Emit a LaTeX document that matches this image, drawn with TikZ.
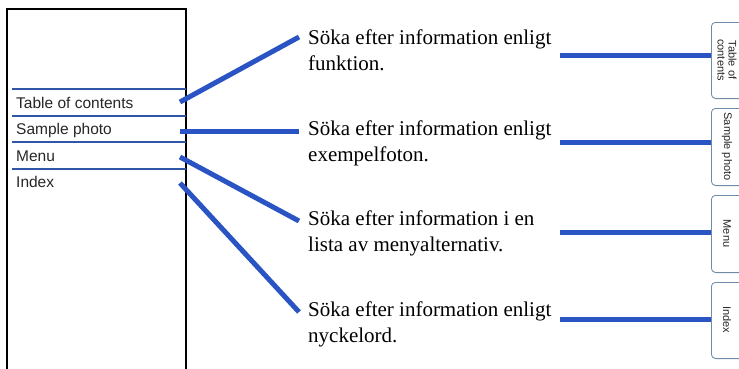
\documentclass[tikz,border=0pt]{standalone}
\usepackage{fontspec}
\setmainfont{Liberation Serif}
\setsansfont{Liberation Sans}
\usetikzlibrary{shadows}
\definecolor{linkblue}{RGB}{42,84,196}
\definecolor{sepblue}{RGB}{48,86,168}
\definecolor{tabedge}{RGB}{110,140,170}
\tikzset{
  menuitem/.style={anchor=base west, inner sep=0pt, font=\sffamily\fontsize{15.5}{18}\selectfont, text=black!85},
  desc/.style={anchor=base west, inner sep=0pt, align=left, font=\rmfamily\fontsize{21}{26}\selectfont},
  link/.style={draw=linkblue, line width=5pt},
  sepline/.style={draw=sepblue, line width=1.3pt},
  tabbox/.style={draw=tabedge, line width=0.8pt, fill=white, rounded corners=4pt,
     minimum width=36pt, minimum height=#1, anchor=north west, inner sep=0pt,
     drop shadow={shadow xshift=0.8pt, shadow yshift=-1pt, opacity=0.35}},
  tablabel/.style={rotate=-90, align=center, inner sep=0pt, font=\sffamily\fontsize{11}{11}\selectfont, text=black!85}
}
\begin{document}
\begin{tikzpicture}[x=1pt,y=-1pt]
\useasboundingbox (0,0) rectangle (739,368);
% left box
\draw[line width=2pt] (7,372) -- (7,9) -- (186,9) -- (186,372);
\foreach \yy in {89,116,142,169} \draw[sepline] (12,\yy) -- (186,\yy);
\node[menuitem] (m1) at (16,108) {Table of contents};
\node[menuitem] (m2) at (16,134) {Sample photo};
\node[menuitem] (m3) at (16,161) {Menu};
\node[menuitem] (m4) at (16,187) {Index};
% descriptions (base = baseline of last line)
\node[desc] (d1) at (308,70) {Söka efter information enligt\\funktion.};
\node[desc] (d2) at (308,161) {Söka efter information enligt\\exempelfoton.};
\node[desc] (d3) at (308,251) {Söka efter information i en\\lista av menyalternativ.};
\node[desc] (d4) at (308,342) {Söka efter information enligt\\nyckelord.};
% tabs
\node[tabbox=76pt] (t1) at (711,22) {};
\node[tabbox=77pt] (t2) at (711,108) {};
\node[tabbox=77pt] (t3) at (711,195) {};
\node[tabbox=76pt] (t4) at (711,282) {};
\node[tablabel] (tl1) at (727,60) {Table of\\contents};
\node[tablabel] (tl2) at (727,146.5) {Sample photo};
\node[tablabel] (tl3) at (727,233.5) {Menu};
\node[tablabel] (tl4) at (727,320) {Index};
% connector ends
\coordinate (a1) at (180,102); \coordinate (b1) at (299,37);
\coordinate (a2) at (180,131); \coordinate (b2) at (299,131);
\coordinate (a3) at (180,157); \coordinate (b3) at (299,221);
\coordinate (a4) at (180,183); \coordinate (b4) at (299,312);
\coordinate (r1) at (560,55); \coordinate (r2) at (560,142);
\coordinate (r3) at (560,232); \coordinate (r4) at (560,319);
\draw[link] (a1) -- (b1);
\draw[link] (a2) -- (b2);
\draw[link] (a3) -- (b3);
\draw[link] (a4) -- (b4);
\draw[link] (r1) -- (r1 -| t1.west);
\draw[link] (r2) -- (r2 -| t2.west);
\draw[link] (r3) -- (r3 -| t3.west);
\draw[link] (r4) -- (r4 -| t4.west);
\end{tikzpicture}
\end{document}
